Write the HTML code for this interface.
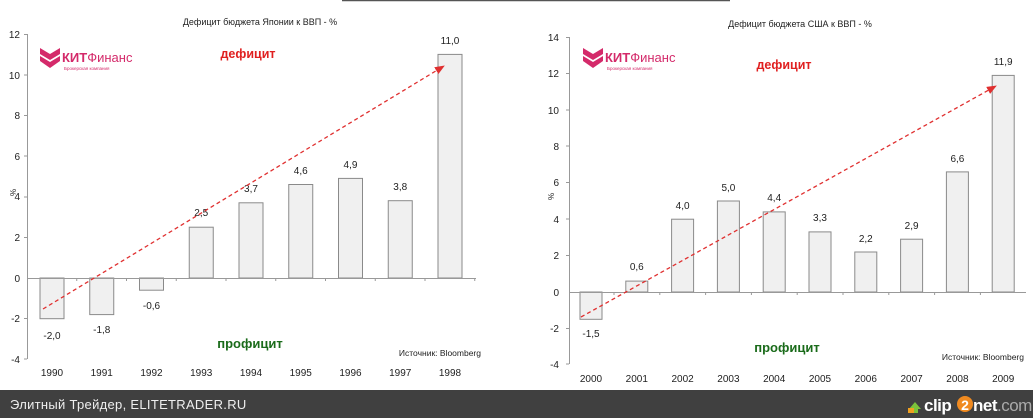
<!DOCTYPE html>
<html><head><meta charset="utf-8"><style>
html,body{margin:0;padding:0;background:#fff;width:1033px;height:418px;overflow:hidden}
svg{display:block}
text{font-family:"Liberation Sans",sans-serif}
</style></head><body>
<svg width="1033" height="418" viewBox="0 0 1033 418" xmlns="http://www.w3.org/2000/svg">
<defs>
<marker id="ar" markerWidth="10" markerHeight="8" refX="9" refY="4" orient="auto" markerUnits="userSpaceOnUse"><path d="M0,0 L10,4 L0,8 Z" fill="#e03030"/></marker>
</defs>
<rect width="1033" height="418" fill="#fff"/>
<line x1="342" y1="0.5" x2="730" y2="0.5" stroke="#555" stroke-width="1.5"/>

<!-- LEFT CHART -->
<text x="260" y="25" font-size="9" text-anchor="middle" fill="#222">Дефицит бюджета Японии  к ВВП - %</text>
<g font-size="10" fill="#222" text-anchor="end">
<text x="20" y="38">12</text><text x="20" y="79">10</text><text x="20" y="119">8</text><text x="20" y="160">6</text><text x="20" y="200">4</text><text x="20" y="241">2</text><text x="20" y="282">0</text><text x="20" y="322">-2</text><text x="20" y="363">-4</text>
</g>
<text x="14" y="198" font-size="8" fill="#222" transform="rotate(-90 14 196)">%</text>
<g stroke="#999" stroke-width="1">
<line x1="27.5" y1="34" x2="27.5" y2="359"/>
<line x1="24" y1="34.5" x2="27" y2="34.5"/><line x1="24" y1="75" x2="27" y2="75"/><line x1="24" y1="115.5" x2="27" y2="115.5"/><line x1="24" y1="156" x2="27" y2="156"/><line x1="24" y1="197" x2="27" y2="197"/><line x1="24" y1="237.5" x2="27" y2="237.5"/><line x1="24" y1="318.5" x2="27" y2="318.5"/><line x1="24" y1="359" x2="27" y2="359"/>
<line x1="76.75" y1="278" x2="76.75" y2="281"/><line x1="126.5" y1="278" x2="126.5" y2="281"/><line x1="176.25" y1="278" x2="176.25" y2="281"/><line x1="226" y1="278" x2="226" y2="281"/><line x1="275.75" y1="278" x2="275.75" y2="281"/><line x1="325.5" y1="278" x2="325.5" y2="281"/><line x1="375.25" y1="278" x2="375.25" y2="281"/><line x1="425" y1="278" x2="425" y2="281"/><line x1="474.75" y1="278" x2="474.75" y2="281"/>
</g>
<g fill="#f0f0f0" stroke="#8a8a8a" stroke-width="1">
<rect x="40" y="278" width="24" height="40.7"/>
<rect x="89.75" y="278" width="24" height="36.6"/>
<rect x="139.5" y="278" width="24" height="12.2"/>
<rect x="189.25" y="227.2" width="24" height="50.8"/>
<rect x="239" y="202.8" width="24" height="75.2"/>
<rect x="288.75" y="184.5" width="24" height="93.5"/>
<rect x="338.5" y="178.4" width="24" height="99.6"/>
<rect x="388.25" y="200.7" width="24" height="77.3"/>
<rect x="438" y="54.4" width="24" height="223.6"/>
</g>
<line x1="27" y1="278.5" x2="476" y2="278.5" stroke="#999"/>
<g font-size="10" fill="#222" text-anchor="middle">
<text x="52" y="339">-2,0</text><text x="101.75" y="333">-1,8</text><text x="151.5" y="309">-0,6</text>
<text x="201.25" y="216">2,5</text><text x="251" y="192">3,7</text><text x="300.75" y="174">4,6</text><text x="350.5" y="168">4,9</text><text x="400.25" y="190">3,8</text><text x="450" y="44">11,0</text>
</g>
<g font-size="10" fill="#222" text-anchor="middle">
<text x="52" y="376">1990</text><text x="101.75" y="376">1991</text><text x="151.5" y="376">1992</text><text x="201.25" y="376">1993</text><text x="251" y="376">1994</text><text x="300.75" y="376">1995</text><text x="350.5" y="376">1996</text><text x="400.25" y="376">1997</text><text x="450" y="376">1998</text>
</g>
<line x1="43" y1="309" x2="444" y2="66" stroke="#e03030" stroke-width="1.3" stroke-dasharray="4,3" marker-end="url(#ar)"/>
<text x="248" y="58" font-size="12.5" font-weight="bold" fill="#e02020" text-anchor="middle">дефицит</text>
<text x="250" y="348" font-size="13" font-weight="bold" fill="#1a6b1a" text-anchor="middle" font-family="Liberation Serif,serif">профицит</text>
<text x="481" y="356" font-size="8.5" fill="#222" text-anchor="end">Источник: Bloomberg</text>
<g transform="translate(40,48)">
<path d="M0,0 L10,6 L20,0 L20,6 L10,12 L0,6 Z M0,8 L10,14 L20,8 L20,13 L10,20 L0,13 Z" fill="#d42a6a"/>
<text x="22" y="14" font-size="13" font-weight="bold" fill="#d42a6a">КИТ<tspan font-weight="normal">Финанс</tspan></text>
<text x="24" y="22" font-size="4.5" fill="#d42a6a">Брокерская компания</text>
</g>

<!-- RIGHT CHART -->
<text x="800" y="27" font-size="9" text-anchor="middle" fill="#222">Дефицит бюджета США к ВВП - %</text>
<g font-size="10" fill="#222" text-anchor="end">
<text x="559" y="41">14</text><text x="559" y="77">12</text><text x="559" y="114">10</text><text x="559" y="150">8</text><text x="559" y="186">6</text><text x="559" y="223">4</text><text x="559" y="259">2</text><text x="559" y="296">0</text><text x="559" y="332">-2</text><text x="559" y="368">-4</text>
</g>
<text x="552" y="202" font-size="8" fill="#222" transform="rotate(-90 552 200)">%</text>
<g stroke="#999" stroke-width="1">
<line x1="569.5" y1="37" x2="569.5" y2="364"/>
<line x1="566" y1="37.5" x2="569" y2="37.5"/><line x1="566" y1="73.5" x2="569" y2="73.5"/><line x1="566" y1="110" x2="569" y2="110"/><line x1="566" y1="146" x2="569" y2="146"/><line x1="566" y1="182.5" x2="569" y2="182.5"/><line x1="566" y1="219" x2="569" y2="219"/><line x1="566" y1="255.5" x2="569" y2="255.5"/><line x1="566" y1="328.5" x2="569" y2="328.5"/><line x1="566" y1="364" x2="569" y2="364"/>
<line x1="614" y1="292" x2="614" y2="295"/><line x1="659.8" y1="292" x2="659.8" y2="295"/><line x1="705.6" y1="292" x2="705.6" y2="295"/><line x1="751.4" y1="292" x2="751.4" y2="295"/><line x1="797.2" y1="292" x2="797.2" y2="295"/><line x1="843" y1="292" x2="843" y2="295"/><line x1="888.8" y1="292" x2="888.8" y2="295"/><line x1="934.6" y1="292" x2="934.6" y2="295"/><line x1="980.4" y1="292" x2="980.4" y2="295"/>
</g>
<g fill="#f0f0f0" stroke="#8a8a8a" stroke-width="1">
<rect x="580" y="292" width="22" height="27.3"/>
<rect x="625.8" y="281.1" width="22" height="10.9"/>
<rect x="671.6" y="219.2" width="22" height="72.8"/>
<rect x="717.4" y="201" width="22" height="91"/>
<rect x="763.2" y="211.9" width="22" height="80.1"/>
<rect x="809" y="231.9" width="22" height="60.1"/>
<rect x="854.8" y="252" width="22" height="40"/>
<rect x="900.6" y="239.2" width="22" height="52.8"/>
<rect x="946.4" y="171.9" width="22" height="120.1"/>
<rect x="992.2" y="75.4" width="22" height="216.6"/>
</g>
<line x1="569" y1="292.5" x2="1026" y2="292.5" stroke="#999"/>
<g font-size="10" fill="#222" text-anchor="middle">
<text x="591" y="337">-1,5</text><text x="636.8" y="270">0,6</text><text x="682.6" y="209">4,0</text><text x="728.4" y="191">5,0</text><text x="774.2" y="201">4,4</text><text x="820" y="221">3,3</text><text x="865.8" y="242">2,2</text><text x="911.6" y="229">2,9</text><text x="957.4" y="162">6,6</text><text x="1003.2" y="65">11,9</text>
</g>
<g font-size="10" fill="#222" text-anchor="middle">
<text x="591" y="382">2000</text><text x="636.8" y="382">2001</text><text x="682.6" y="382">2002</text><text x="728.4" y="382">2003</text><text x="774.2" y="382">2004</text><text x="820" y="382">2005</text><text x="865.8" y="382">2006</text><text x="911.6" y="382">2007</text><text x="957.4" y="382">2008</text><text x="1003.2" y="382">2009</text>
</g>
<line x1="581" y1="317" x2="996" y2="86" stroke="#e03030" stroke-width="1.3" stroke-dasharray="4,3" marker-end="url(#ar)"/>
<text x="784" y="69" font-size="12.5" font-weight="bold" fill="#e02020" text-anchor="middle">дефицит</text>
<text x="787" y="352" font-size="13" font-weight="bold" fill="#1a6b1a" text-anchor="middle" font-family="Liberation Serif,serif">профицит</text>
<text x="1024" y="360" font-size="8.5" fill="#222" text-anchor="end">Источник: Bloomberg</text>
<g transform="translate(583,48)">
<path d="M0,0 L10,6 L20,0 L20,6 L10,12 L0,6 Z M0,8 L10,14 L20,8 L20,13 L10,20 L0,13 Z" fill="#d42a6a"/>
<text x="22" y="14" font-size="13" font-weight="bold" fill="#d42a6a">КИТ<tspan font-weight="normal">Финанс</tspan></text>
<text x="24" y="22" font-size="4.5" fill="#d42a6a">Брокерская компания</text>
</g>

<!-- bottom bar -->
<rect x="0" y="390" width="1033" height="28" fill="#404040"/>
<text x="10" y="409" font-size="13" fill="#eee" font-family="DejaVu Sans,sans-serif" letter-spacing="0.3">Элитный Трейдер, ELITETRADER.RU</text>
<path d="M909,409 L915,402 L921,409 L918,409 L918,413 L912,413 L912,409 Z" fill="#7cc33a"/>
<rect x="908" y="408" width="6" height="5" fill="#f0a020"/>
<text x="924" y="411" font-size="17" font-weight="bold" fill="#fff" letter-spacing="-0.5">clip</text>
<circle cx="965" cy="404" r="8" fill="#f08a20"/>
<text x="965" y="410" font-size="14" font-weight="bold" fill="#fff" text-anchor="middle">2</text>
<text x="973" y="411" font-size="17" font-weight="bold" fill="#fff" letter-spacing="-0.5">net<tspan fill="#aaa" font-weight="normal">.com</tspan></text>
</svg>
</body></html>
